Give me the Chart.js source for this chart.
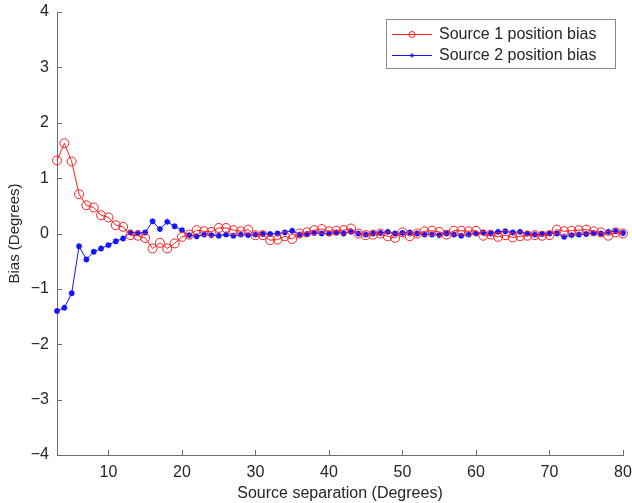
<!DOCTYPE html>
<html>
<head>
<meta charset="utf-8">
<script src="https://cdn.jsdelivr.net/npm/chart.js@4.4.0/dist/chart.umd.min.js"></script>
<style>
  html, body { margin: 0; padding: 0; background: #fff; }
  #wrap { width: 632px; height: 503px; }
</style>
</head>
<body>
<div id="wrap"><canvas id="myChart" width="632" height="503"></canvas></div>
<script>
// source separation (degrees)
var separation = [3, 4, 5, 6, 7, 8, 9, 10, 11, 12, 13, 14, 15, 16, 17, 18, 19, 20,
  21, 22, 23, 24, 25, 26, 27, 28, 29, 30, 31, 32, 33, 34, 35, 36, 37, 38, 39, 40,
  41, 42, 43, 44, 45, 46, 47, 48, 49, 50, 51, 52, 53, 54, 55, 56, 57, 58, 59, 60,
  61, 62, 63, 64, 65, 66, 67, 68, 69, 70, 71, 72, 73, 74, 75, 76, 77, 78, 79, 80];

// bias of source 1 (red circles)
var source1Bias = [1.32, 1.63, 1.30, 0.71, 0.51, 0.47, 0.33, 0.29, 0.15, 0.12, -0.03, -0.04, -0.08, -0.27, -0.17, -0.27, -0.18, -0.06,
  -0.02, 0.06, 0.04, 0.03, 0.10, 0.10, 0.06, 0.04, 0.07, -0.03, -0.03, -0.12, -0.11, -0.05, -0.10, 0.00, 0.02, 0.06, 0.08, 0.04,
  0.05, 0.06, 0.09, 0.00, -0.03, -0.02, 0.00, -0.05, -0.08, 0.02, -0.05, 0.00, 0.04, 0.05, 0.03, -0.02, 0.05, 0.05, 0.04, 0.05,
  -0.04, -0.02, -0.06, -0.03, -0.07, -0.05, -0.04, -0.03, -0.04, -0.03, 0.07, 0.04, 0.05, 0.06, 0.07, 0.04, 0.02, -0.04, 0.02, 0.00];

// bias of source 2 (blue stars)
var source2Bias = [-1.40, -1.34, -1.08, -0.23, -0.47, -0.33, -0.27, -0.21, -0.14, -0.09, 0.02, 0.01, 0.02, 0.22, 0.08, 0.21, 0.13, 0.06,
  -0.03, -0.05, -0.02, -0.03, -0.04, -0.02, -0.04, -0.02, -0.03, -0.02, -0.01, -0.01, 0.00, 0.02, 0.05, -0.02, -0.01, 0.01, 0.00, 0.00,
  0.02, 0.00, 0.03, 0.00, -0.02, 0.00, 0.01, 0.03, 0.00, 0.01, 0.02, 0.00, -0.02, -0.02, -0.03, 0.00, -0.02, -0.04, -0.02, 0.00,
  0.02, 0.00, 0.03, 0.04, 0.02, 0.03, 0.00, -0.02, -0.01, 0.00, 0.00, -0.06, -0.03, -0.02, -0.01, 0.01, 0.00, 0.03, 0.04, 0.01];

var xTicks = [10, 20, 30, 40, 50, 60, 70, 80];
var seriesNames = ['Source 1 position bias', 'Source 2 position bias'];

var axisColor = '#6e6e6e';
var textColor = '#262626';
var fontFamily = '"Liberation Sans", Arial, sans-serif';

function toPoints(xs, ys) {
    return xs.map(function (x, i) { return { x: x, y: ys[i] }; });
}

// matlab style ticks pointing into the plot
var inwardTicks = {
    id: 'inwardTicks',
    afterDraw: function (chart) {
        var ctx = chart.ctx;
        var area = chart.chartArea;
        var xs = chart.scales.x, ys = chart.scales.y;
        ctx.save();
        ctx.strokeStyle = axisColor;
        ctx.lineWidth = 1;
        ctx.beginPath();
        xs.ticks.forEach(function (t) {
            var px = Math.round(xs.getPixelForValue(t.value)) + 0.5;
            ctx.moveTo(px, area.bottom);
            ctx.lineTo(px, area.bottom - 5);
        });
        ys.ticks.forEach(function (t) {
            var py = Math.round(ys.getPixelForValue(t.value)) + 0.5;
            ctx.moveTo(area.left, py);
            ctx.lineTo(area.left + 5, py);
        });
        ctx.stroke();
        ctx.restore();
    }
};

// boxed legend with line + marker samples
var legendMarkerSize = [3, 2.2];
var boxLegend = {
    id: 'boxLegend',
    afterDraw: function (chart) {
        var ctx = chart.ctx;
        var left = 386, top = 19, right = 615, bottom = 68;
        ctx.save();
        ctx.fillStyle = '#fff';
        ctx.fillRect(left, top, right - left, bottom - top);
        ctx.strokeStyle = '#8a8a8a';
        ctx.lineWidth = 1;
        ctx.strokeRect(left + 0.5, top + 0.5, right - left, bottom - top);
        ctx.font = '16px ' + fontFamily;
        ctx.textBaseline = 'middle';
        ctx.textAlign = 'left';
        chart.data.datasets.forEach(function (ds, i) {
            var cy = 34 + i * 21;
            ctx.strokeStyle = ds.borderColor;
            ctx.fillStyle = ds.pointBackgroundColor;
            ctx.lineWidth = 1;
            ctx.beginPath();
            ctx.moveTo(392, cy + 0.5);
            ctx.lineTo(432, cy + 0.5);
            ctx.stroke();
            Chart.helpers.drawPoint(ctx, {
                pointStyle: ds.pointStyle,
                radius: legendMarkerSize[i],
                borderWidth: 1,
                rotation: 0
            }, 412, cy + 0.5);
            ctx.fillStyle = textColor;
            ctx.fillText(seriesNames[i], 439, cy + 1);
        });
        ctx.restore();
    }
};

var ctx = document.getElementById('myChart').getContext('2d');
var biasChart = new Chart(ctx, {
    type: 'line',
    data: {
        datasets: [{
            label: seriesNames[0],
            data: toPoints(separation, source1Bias),
            borderColor: 'rgb(255, 30, 30)',
            backgroundColor: 'rgba(0,0,0,0)',
            borderWidth: 1,
            pointStyle: 'circle',
            pointRadius: 4.5,
            pointBorderWidth: 1,
            pointBackgroundColor: 'rgba(0,0,0,0)',
            pointBorderColor: 'rgb(255, 30, 30)',
            tension: 0
        }, {
            label: seriesNames[1],
            data: toPoints(separation, source2Bias),
            borderColor: 'rgb(20, 20, 255)',
            backgroundColor: 'rgb(20, 20, 255)',
            borderWidth: 1,
            pointStyle: 'star',
            pointRadius: 3,
            pointBorderWidth: 1.6,
            pointBackgroundColor: 'rgb(20, 20, 255)',
            pointBorderColor: 'rgb(20, 20, 255)',
            tension: 0
        }]
    },
    plugins: [inwardTicks, boxLegend],
    options: {
        responsive: false,
        animation: false,
        clip: false,
        layout: { autoPadding: false, padding: { top: 12, right: 9, left: 0, bottom: 0 } },
        plugins: {
            legend: { display: false },
            tooltip: { enabled: false }
        },
        scales: {
            x: {
                type: 'linear',
                min: 3,
                max: 80,
                afterBuildTicks: function (scale) {
                    scale.ticks = xTicks.map(function (v) { return { value: v }; });
                },
                afterFit: function (scale) {
                    scale.height = 48;
                    scale.paddingLeft = 0;
                    scale.paddingRight = 0;
                },
                grid: { display: false, drawTicks: false },
                border: { display: true, color: axisColor, width: 1 },
                ticks: { color: textColor, font: { family: fontFamily, size: 16 }, padding: 8, maxRotation: 0 },
                title: {
                    display: true,
                    text: 'Source separation (Degrees)',
                    color: textColor,
                    font: { family: fontFamily, size: 16 },
                    padding: { top: 0, bottom: 0 }
                }
            },
            y: {
                min: -4,
                max: 4,
                afterFit: function (scale) {
                    scale.width = 57;
                    scale.paddingTop = 0;
                    scale.paddingBottom = 0;
                },
                grid: { display: false, drawTicks: false },
                border: { display: true, color: axisColor, width: 1 },
                ticks: {
                    stepSize: 1,
                    color: textColor,
                    font: { family: fontFamily, size: 16 },
                    padding: 8,
                    callback: function (v) { return v < 0 ? '\u2212' + Math.abs(v) : String(v); }
                },
                title: {
                    display: true,
                    text: 'Bias (Degrees)',
                    color: textColor,
                    font: { family: fontFamily, size: 15 },
                    padding: { top: 6, bottom: 0 }
                }
            }
        }
    }
});
</script>
</body>
</html>
